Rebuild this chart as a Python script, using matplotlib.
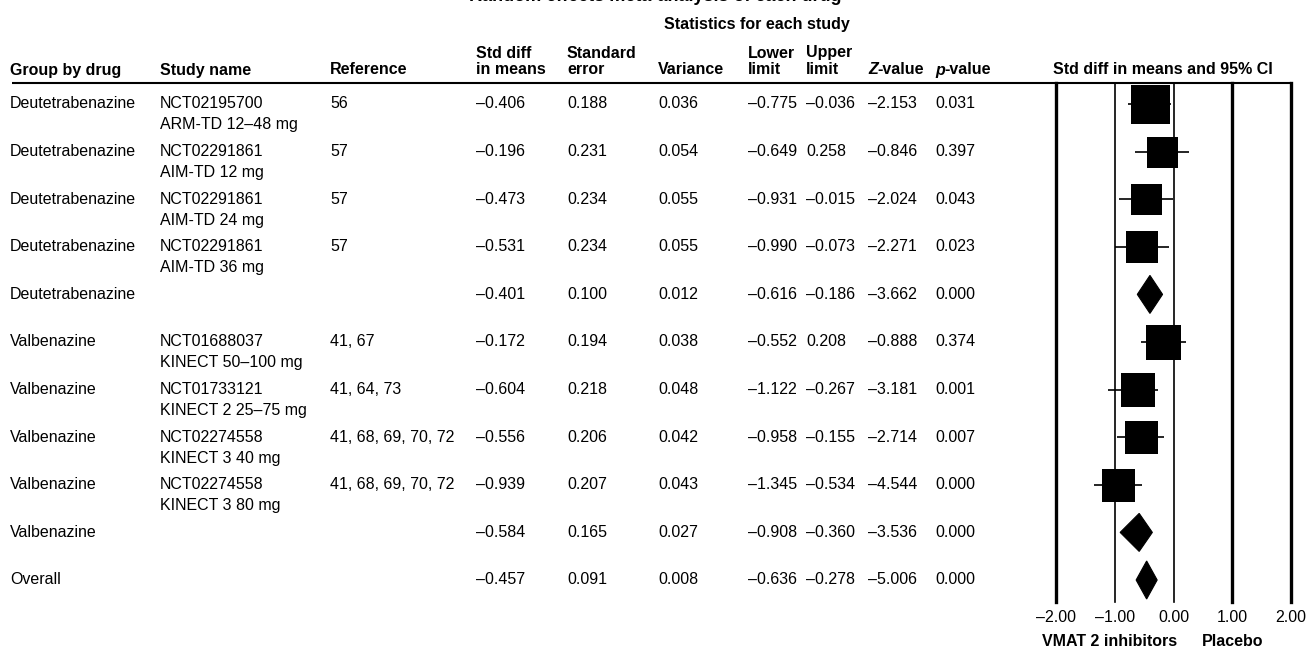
import matplotlib
matplotlib.use('Agg')

import matplotlib.pyplot as plt
from matplotlib.patches import Polygon

plt.rcParams['font.family'] = ['Liberation Sans', 'DejaVu Sans']

# study rows, subgroup totals and overall estimate
groups = ['Deutetrabenazine', 'Deutetrabenazine', 'Deutetrabenazine', 'Deutetrabenazine',
          'Deutetrabenazine', 'Valbenazine', 'Valbenazine', 'Valbenazine', 'Valbenazine',
          'Valbenazine', 'Overall']
study_ids = ['NCT02195700', 'NCT02291861', 'NCT02291861', 'NCT02291861', '',
             'NCT01688037', 'NCT01733121', 'NCT02274558', 'NCT02274558', '', '']
study_arms = ['ARM-TD 12\u201348 mg', 'AIM-TD 12 mg', 'AIM-TD 24 mg', 'AIM-TD 36 mg', '',
              'KINECT 50\u2013100 mg', 'KINECT 2 25\u201375 mg', 'KINECT 3 40 mg',
              'KINECT 3 80 mg', '', '']
references = ['56', '57', '57', '57', '', '41, 67', '41, 64, 73',
              '41, 68, 69, 70, 72', '41, 68, 69, 70, 72', '', '']
smd = [-0.406, -0.196, -0.473, -0.531, -0.401, -0.172, -0.604, -0.556, -0.939, -0.584, -0.457]
std_err = [0.188, 0.231, 0.234, 0.234, 0.100, 0.194, 0.218, 0.206, 0.207, 0.165, 0.091]
variance = [0.036, 0.054, 0.055, 0.055, 0.012, 0.038, 0.048, 0.042, 0.043, 0.027, 0.008]
lower = [-0.775, -0.649, -0.931, -0.990, -0.616, -0.552, -1.122, -0.958, -1.345, -0.908, -0.636]
upper = [-0.036, 0.258, -0.015, -0.073, -0.186, 0.208, -0.267, -0.155, -0.534, -0.360, -0.278]
z_value = [-2.153, -0.846, -2.024, -2.271, -3.662, -0.888, -3.181, -2.714, -4.544, -3.536, -5.006]
p_value = [0.031, 0.397, 0.043, 0.023, 0.000, 0.374, 0.001, 0.007, 0.000, 0.000, 0.000]
is_total = [False, False, False, False, True, False, False, False, False, True, True]

x_ticks = [-2, -1, 0, 1, 2]

# box side in pixels for the individual studies (weight markers)
box_px = [39, 31, 31, 32, 35, 34, 33, 33]

W, H = 1310, 652
FS = 11.5
ROW0, ROW_STEP = 104, 47.6
TOP, BOTTOM = 83, 602
PLOT_L, PLOT_R = 1056, 1291


def fmt(v):
    return f'{v:.3f}'.replace('-', '\u2013')


def row_y(i):
    return ROW0 + i * ROW_STEP


fig = plt.figure(figsize=(W / 100, H / 100), dpi=100)

# full-figure axes in pixel units for the table text
ax_t = fig.add_axes([0, 0, 1, 1])
ax_t.set_xlim(0, W)
ax_t.set_ylim(H, 0)
ax_t.axis('off')

# figure title sits above the top edge, only its lowest strokes show
ax_t.text(W / 2, 1, 'Random effects meta-analysis of each drug', ha='center',
          va='baseline', fontsize=13, fontweight='bold')
ax_t.text(757, 25, 'Statistics for each study', ha='center', va='center',
          fontsize=FS, fontweight='bold')

cols = {'group': 10, 'study': 160, 'ref': 330, 'smd': 476, 'se': 567, 'var': 658,
        'lo': 748, 'hi': 806, 'z': 868, 'p': 935, 'ci': 1053}
HY1, HY2 = 53, 70
hdr = dict(fontsize=FS, fontweight='bold', va='center', ha='left')
ax_t.text(cols['group'], HY2, 'Group by drug', **hdr)
ax_t.text(cols['study'], HY2, 'Study name', **hdr)
ax_t.text(cols['ref'], HY2, 'Reference', **hdr)
ax_t.text(cols['smd'], HY1, 'Std diff', **hdr)
ax_t.text(cols['smd'], HY2, 'in means', **hdr)
ax_t.text(cols['se'], HY1, 'Standard', **hdr)
ax_t.text(cols['se'], HY2, 'error', **hdr)
ax_t.text(cols['var'], HY2, 'Variance', **hdr)
ax_t.text(cols['lo'], HY1, 'Lower', **hdr)
ax_t.text(cols['lo'], HY2, 'limit', **hdr)
ax_t.text(cols['hi'], HY1, 'Upper', **hdr)
ax_t.text(cols['hi'], HY2, 'limit', **hdr)
for key, letter in (('z', 'Z'), ('p', 'p')):
    t = ax_t.text(cols[key], HY2, letter, style='italic', **hdr)
    ax_t.annotate('-value', xy=(1, 0), xycoords=t, ha='left', va='bottom',
                  fontsize=FS, fontweight='bold')
ax_t.text(cols['ci'], HY2, 'Std diff in means and 95% CI', **hdr)

ax_t.plot([12, PLOT_R], [TOP, TOP], color='black', lw=1.5, solid_capstyle='butt')

cell = dict(fontsize=FS, va='center', ha='left')
for i in range(len(groups)):
    y = row_y(i)
    ax_t.text(cols['group'], y, groups[i], **cell)
    if study_ids[i]:
        ax_t.text(cols['study'], y, study_ids[i], **cell)
        ax_t.text(cols['study'], y + 21, study_arms[i], **cell)
    ax_t.text(cols['ref'], y, references[i], **cell)
    ax_t.text(cols['smd'], y, fmt(smd[i]), **cell)
    ax_t.text(cols['se'], y, fmt(std_err[i]), **cell)
    ax_t.text(cols['var'], y, fmt(variance[i]), **cell)
    ax_t.text(cols['lo'], y, fmt(lower[i]), **cell)
    ax_t.text(cols['hi'], y, fmt(upper[i]), **cell)
    ax_t.text(cols['z'], y, fmt(z_value[i]), **cell)
    ax_t.text(cols['p'], y, fmt(p_value[i]), **cell)

ax_t.text(1110, 642, 'VMAT 2 inhibitors', ha='center', va='center',
          fontsize=FS, fontweight='bold')
ax_t.text(1233, 642, 'Placebo', ha='center', va='center',
          fontsize=FS, fontweight='bold')

# forest plot panel, rows in index units
ax = fig.add_axes([PLOT_L / W, (H - BOTTOM) / H, (PLOT_R - PLOT_L) / W, (BOTTOM - TOP) / H])
ax.patch.set_alpha(0)
ax.set_xlim(-2, 2)
ax.set_ylim((BOTTOM - ROW0) / ROW_STEP, (TOP - ROW0) / ROW_STEP)
for s in ax.spines.values():
    s.set_visible(False)
ax.set_yticks([])
ax.set_xticks(x_ticks)
ax.set_xticklabels([fmt(v)[:-1] for v in x_ticks])
ax.tick_params(axis='x', length=0, pad=6, labelsize=FS)

for xv in x_ticks:
    lw = 1.2 if xv in (-1, 0) else 2.4
    ax.axvline(xv, color='black', lw=lw, clip_on=False, zorder=1)

half_h = 19 / ROW_STEP
k = 0
for i in range(len(groups)):
    if is_total[i]:
        pts = [(lower[i], i), (smd[i], i - half_h), (upper[i], i), (smd[i], i + half_h)]
        ax.add_patch(Polygon(pts, closed=True, facecolor='black', edgecolor='black',
                             lw=0.8, zorder=3))
    else:
        ax.hlines(i, lower[i], upper[i], color='black', lw=1.2, zorder=2)
        ax.scatter([smd[i]], [i], marker='s', s=(box_px[k] * 0.72) ** 2,
                   color='black', linewidths=0, zorder=3)
        k += 1

fig.savefig('out.png', dpi=100)
